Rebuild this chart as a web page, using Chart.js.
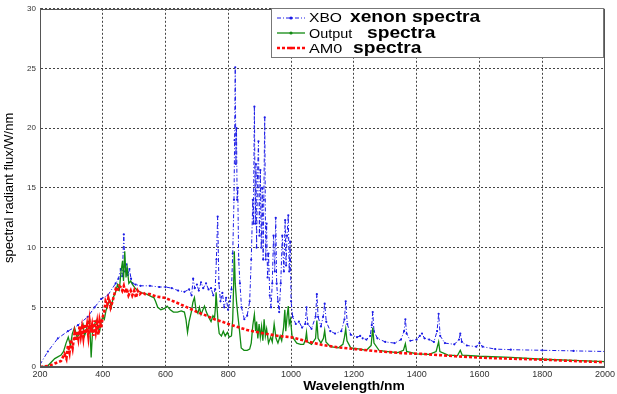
<!DOCTYPE html>
<html>
<head>
<meta charset="utf-8">
<script src="https://cdn.jsdelivr.net/npm/chart.js@4"></script>
<style>
  html, body { margin: 0; padding: 0; background: #fff; }
  #wrap { width: 617px; height: 394px; position: relative; }
</style>
</head>
<body>
<div id="wrap"><canvas id="c" width="617" height="394"></canvas></div>
<script>
// ---- data ----
const xTicks = [200, 400, 600, 800, 1000, 1200, 1400, 1600, 1800, 2000];
const yTicks = [0, 5, 10, 15, 20, 25, 30];

const xboWl = [
  200,225,257,289,321,352,374,395,416,441,
  450,457,462,467,471,475,480,485,490,495,
  505,520,550,580,600,620,640,660,675,683,
  688,693,700,706,713,720,729,737,745,752,
  758,762,766,770,775,781,787,793,799,805,
  810,814,818,820,822,824,826,828,830,833,
  837,842,851,860,868,873,878,880,883,886,
  888,890,893,896,899,902,905,908,911,913,
  916,919,922,925,928,932,936,940,944,948,
  951,954,958,962,967,972,977,981,984,987,
  991,994,997,1000,1005,1015,1025,1035,1045,1049,
  1053,1065,1078,1082,1086,1095,1102,1107,1112,1125,
  1140,1160,1170,1174,1179,1190,1210,1220,1228,1240,
  1252,1257,1260,1264,1275,1300,1330,1350,1360,1364,
  1368,1380,1400,1410,1417,1425,1440,1455,1465,1470,
  1475,1490,1520,1535,1539,1544,1560,1590,1600,1610,
  1650,1700,1800,1900,2000
];
const xboFlux = [
  0.2,1.3,2.4,3.0,3.5,4.2,5.0,5.7,6.0,7.0,
  7.4,8.2,7.6,11.1,8.0,8.6,7.7,8.2,7.4,7.0,
  6.9,6.8,6.8,6.7,6.7,6.6,6.4,6.3,6.5,6.0,
  7.4,6.6,6.9,6.4,7.1,6.6,7.0,6.5,6.6,6.0,
  6.5,9.0,12.6,7.0,5.5,6.2,5.0,5.8,4.8,5.5,
  6.5,9.5,14,19,25.1,17,20,14,15,9,
  7,5,4.0,4.3,5.5,9,14,12,21.8,12,
  17,10,16,18.9,11,16.5,10,15,9,14,
  20.9,9,12,7.5,9.5,6,5,7,11,8,
  12.5,7,5.5,4.6,7,11,8,12.3,8.5,11,
  12.7,8,10.5,5.5,4.2,3.6,3.8,3.3,3.6,5.0,
  3.6,3.2,4.2,6.1,4.2,3.4,4.2,5.3,3.8,3.0,
  2.8,3.0,4.0,5.5,3.6,2.7,2.5,2.6,2.4,2.3,
  2.6,3.5,4.6,3.0,2.4,2.1,2.0,2.3,3.0,4.0,
  2.8,2.2,2.3,2.6,2.8,2.4,2.3,2.1,3.0,4.45,
  2.6,2.0,1.9,2.3,2.8,2.1,1.8,1.7,2.0,1.7,
  1.5,1.45,1.4,1.35,1.3
];

const outWl = [
  200,225,247,267,275,283,290,297,303,310,
  318,326,332,337,342,347,352,358,363,368,
  374,379,385,390,395,400,405,410,416,421,
  427,433,440,447,453,458,463,466,470,474,
  478,483,489,495,503,511,525,540,555,563,
  568,575,585,597,605,615,625,638,650,660,
  665,670,675,682,687,692,697,703,708,713,
  719,724,730,737,745,751,756,759,761,764,
  768,771,778,784,790,797,803,810,814,817,
  819,822,826,830,835,841,850,860,868,873,
  878,883,887,890,894,898,902,906,910,914,
  918,922,928,935,940,946,952,958,965,970,
  976,980,983,987,991,994,998,1003,1010,1018,
  1030,1040,1046,1049,1052,1065,1078,1082,1086,1095,
  1103,1107,1111,1125,1150,1165,1170,1174,1178,1190,
  1220,1240,1255,1260,1264,1280,1300,1340,1358,1364,
  1368,1400,1440,1462,1470,1474,1500,1530,1539,1545,
  1600,1700,1800,1900,2000
];
const outFlux = [
  0,0.1,0.7,1.0,1.3,2.0,2.5,1.8,2.8,3.3,
  2.5,2.8,3.4,3.6,2.6,3.0,3.7,3.9,0.8,3.3,
  3.6,3.9,3.3,3.0,3.8,4.2,4.0,4.7,5.2,5.6,
  5.0,5.8,6.2,6.9,6.5,8.0,8.9,7.2,9.7,7.5,
  8.3,7.0,7.2,6.9,6.6,6.4,6.2,6.1,5.9,5.8,
  5.5,5.0,4.8,4.9,5.1,4.8,4.6,4.6,4.7,4.6,
  4.0,2.9,3.8,4.6,5.4,5.8,4.8,4.5,5.0,4.4,
  4.8,5.1,4.6,4.2,3.8,4.3,4.1,5.0,6.25,5.0,
  3.5,2.8,2.6,3.0,2.6,2.9,2.5,2.6,4.0,7.0,
  9.7,7.0,5.5,4.4,3.2,1.6,1.4,1.4,1.5,2.0,
  3.5,4.4,3.0,3.8,2.4,3.6,2.5,3.4,2.2,4.0,
  2.6,3.2,2.0,2.5,2.1,3.6,2.4,2.0,2.6,2.2,
  3.3,4.8,3.0,4.2,5.1,3.6,4.0,2.6,2.3,2.0,
  1.9,1.9,2.3,2.9,2.1,1.9,2.4,3.9,2.4,2.0,
  2.4,3.05,2.1,1.7,1.6,1.9,2.5,3.2,2.2,1.6,
  1.5,1.4,1.8,3.3,2.0,1.4,1.3,1.2,1.4,1.95,
  1.3,1.1,1.05,1.3,2.1,1.3,1.0,0.95,1.4,1.0,
  0.9,0.8,0.65,0.55,0.45
];

const am0Wl = [
  200,230,247,267,278,284,289,294,299,304,
  310,314,318,322,326,330,334,338,342,346,
  350,354,358,362,366,370,374,378,382,386,
  390,395,400,405,409,414,418,421,425,430,
  436,441,446,452,457,462,467,472,476,482,
  489,494,500,506,511,518,525,535,550,570,
  597,630,660,701,730,756,780,800,830,860,
  914,960,999,1050,1099,1150,1205,1260,1311,1360,
  1416,1470,1523,1606,1700,1800,1900,2000
];
const am0Flux = [
  0,0.1,0.3,0.5,1.1,0.7,1.8,1.2,2.3,1.6,
  2.8,2.2,3.0,2.4,3.4,2.6,3.3,2.5,3.6,2.8,
  3.5,2.6,3.8,2.9,3.5,2.6,3.9,3.0,3.7,2.7,
  3.9,3.3,4.2,4.7,5.5,5.2,5.8,5.6,5.0,5.4,
  6.0,6.5,6.3,6.8,6.7,6.4,6.8,6.2,6.6,6.0,
  6.4,6.0,6.4,5.8,6.4,6.1,6.3,6.1,6.1,5.9,
  5.8,5.45,5.1,4.6,4.3,4.0,3.8,3.6,3.35,3.1,
  2.8,2.6,2.5,2.15,1.85,1.65,1.5,1.35,1.25,1.15,
  1.1,1.0,0.9,0.78,0.7,0.62,0.5,0.4
];

const seriesNames = ['XBO xenon spectra', 'Output spectra', 'AM0 spectra'];

// ---- helpers ----
const zip = (xs, ys) => xs.map((x, i) => ({ x: x, y: ys[i] }));
const BLUE = '#1c1ce6', GREEN = '#128a12', RED = '#ff0a0a';

const customLegend = {
  id: 'customLegend',
  afterDraw(chart) {
    const ctx = chart.ctx;
    const ca = chart.chartArea;
    ctx.save();
    // plot box
    ctx.strokeStyle = '#555';
    ctx.lineWidth = 1;
    ctx.setLineDash([]);
    ctx.strokeRect(Math.round(ca.left) + 0.5, Math.round(ca.top) + 0.5,
                   Math.round(ca.right - ca.left) - 1, Math.round(ca.bottom - ca.top) - 1);
    // legend box
    ctx.fillStyle = '#fff';
    ctx.fillRect(271.5, 8.5, 332, 49);
    ctx.strokeStyle = '#777';
    ctx.strokeRect(271.5, 8.5, 332, 49);

    const rows = [
      { y: 18, color: BLUE, dash: [4, 2, 1, 2], width: 1, small: 'XBO', big: 'xenon spectra', smallSize: 13, bigX: 350, base: 22 },
      { y: 33, color: GREEN, dash: [], width: 1.3, small: 'Output', big: 'spectra', smallSize: 12, bigX: 367, base: 37.5 },
      { y: 48, color: RED, dash: [3, 2], width: 2.6, small: 'AM0', big: 'spectra', smallSize: 13.5, bigX: 353, base: 53 }
    ];
    rows.forEach(r => {
      ctx.strokeStyle = r.color;
      ctx.lineWidth = r.width;
      ctx.setLineDash(r.dash);
      ctx.beginPath();
      ctx.moveTo(277, r.y);
      ctx.lineTo(305, r.y);
      ctx.stroke();
      ctx.setLineDash([]);
      ctx.fillStyle = r.color;
      ctx.beginPath();
      ctx.arc(291, r.y, 1.6, 0, Math.PI * 2);
      ctx.fill();

      ctx.fillStyle = '#000';
      ctx.textBaseline = 'alphabetic';
      ctx.textAlign = 'left';
      ctx.save();
      ctx.translate(309, r.base);
      ctx.scale(1.2, 1);
      ctx.font = r.smallSize + 'px "Liberation Sans", Arial, sans-serif';
      ctx.fillText(r.small, 0, 0);
      ctx.restore();
      ctx.save();
      ctx.translate(r.bigX, r.base);
      ctx.scale(1.2, 1);
      ctx.font = 'bold 16px "Liberation Sans", Arial, sans-serif';
      ctx.fillText(r.big, 0, 0);
      ctx.restore();
    });

    // x axis title
    ctx.save();
    ctx.translate(354, 390);
    ctx.scale(1.15, 1);
    ctx.fillStyle = '#000';
    ctx.textAlign = 'center';
    ctx.font = 'bold 12px "Liberation Sans", Arial, sans-serif';
    ctx.fillText('Wavelength/nm', 0, 0);
    ctx.restore();
    ctx.restore();
  }
};

new Chart(document.getElementById('c'), {
  type: 'line',
  data: {
    datasets: [
      {
        label: seriesNames[0], data: zip(xboWl, xboFlux),
        borderColor: BLUE, backgroundColor: BLUE, borderWidth: 1,
        borderDash: [4, 2, 1, 2], pointRadius: 1.1, pointBorderWidth: 0,
        pointBackgroundColor: BLUE, tension: 0, order: 3
      },
      {
        label: seriesNames[1], data: zip(outWl, outFlux),
        borderColor: GREEN, backgroundColor: GREEN, borderWidth: 1.3,
        pointRadius: 0, tension: 0, order: 2
      },
      {
        label: seriesNames[2], data: zip(am0Wl, am0Flux),
        borderColor: RED, backgroundColor: RED, borderWidth: 2.6,
        borderDash: [3, 2], pointRadius: 0, tension: 0, order: 1
      }
    ]
  },
  options: {
    responsive: false,
    animation: false,
    devicePixelRatio: 1,
    layout: { padding: { top: 6, right: 10, left: 0, bottom: 0 } },
    plugins: { legend: { display: false }, tooltip: { enabled: false } },
    scales: {
      x: {
        type: 'linear', min: 200, max: 2000,
        afterBuildTicks: s => { s.ticks = xTicks.map(v => ({ value: v })); },
        afterFit: s => { s.height = 27; },
        ticks: { color: '#333', font: { size: 9, family: '"Liberation Sans", Arial, sans-serif' }, padding: 2, maxRotation: 0, autoSkip: false,
                 callback: v => String(v) },
        grid: { color: '#444', lineWidth: 1, drawTicks: false },
        border: { display: true, color: '#555', dash: [2, 2] },
        title: { display: false }
      },
      y: {
        type: 'linear', min: 0, max: 30,
        afterBuildTicks: s => { s.ticks = yTicks.map(v => ({ value: v })); },
        afterFit: s => { s.width = 40; },
        ticks: { color: '#333', font: { size: 8, family: '"Liberation Sans", Arial, sans-serif' }, padding: 4,
                 callback: v => String(v) },
        grid: { color: '#444', lineWidth: 1, drawTicks: false },
        border: { display: true, color: '#555', dash: [2, 2] },
        title: {
          display: true, text: 'spectral radiant flux/W/nm', color: '#000',
          font: { size: 13, family: '"Liberation Sans", Arial, sans-serif' },
          padding: { top: 2, bottom: 0 }
        }
      }
    }
  },
  plugins: [customLegend]
});
</script>
</body>
</html>
